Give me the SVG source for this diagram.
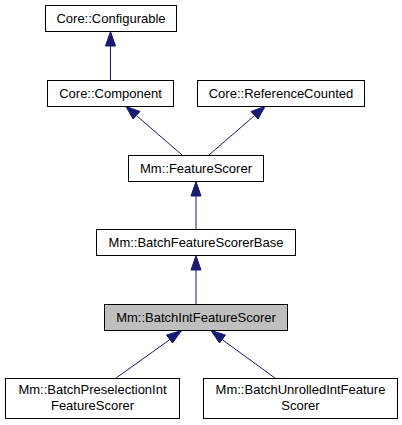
<svg xmlns="http://www.w3.org/2000/svg" width="402" height="425" viewBox="0 0 402 425">
<style>
.n rect{fill:#fff;stroke:#000;stroke-width:1}
.n text{font-family:"Liberation Sans",Arial,sans-serif;font-size:13px;text-anchor:middle;fill:#000}
.e path{fill:none;stroke:#191970;stroke-width:1}
.e polygon{fill:#191970;stroke:#191970;stroke-width:1}
</style>
<rect width="402" height="425" fill="#fff"/>
<g class="e" id="edges">
<path d="M110.5,80 L110.5,46"/>
<polygon points="110.5,31.5 105.5,46 115.5,46"/>
<path d="M182,155 L137,116"/>
<polygon points="126,106.5 133,119 140,111.5"/>
<path d="M209,155 L254,116"/>
<polygon points="265,106.5 251,111.5 258,119"/>
<path d="M196,229 L196,196"/>
<polygon points="196,181.5 191,196 201,196"/>
<path d="M196,304 L196,270"/>
<polygon points="196,255.5 191,270 201,270"/>
<path d="M116,378 L170,339.5"/>
<polygon points="181.5,330.5 166.5,335 172.5,343"/>
<path d="M275,378 L222,339.5"/>
<polygon points="211,330.5 219.5,343 225.5,335"/>
</g>
<g class="n" id="configurable"><rect x="45.5" y="5.5" width="131" height="26"/><text x="111" y="23">Core::Configurable</text></g>
<g class="n" id="component"><rect x="47.5" y="80.5" width="126" height="26"/><text x="110.5" y="98">Core::Component</text></g>
<g class="n" id="referencecounted"><rect x="197.5" y="80.5" width="167" height="26"/><text x="281" y="98">Core::ReferenceCounted</text></g>
<g class="n" id="featurescorer"><rect x="128.5" y="155.5" width="135" height="26"/><text x="196" y="173">Mm::FeatureScorer</text></g>
<g class="n" id="batchfeaturescorerbase"><rect x="96.5" y="229.5" width="199" height="26"/><text x="196" y="247">Mm::BatchFeatureScorerBase</text></g>
<g class="n" id="batchintfeaturescorer"><rect x="104.5" y="304.5" width="183" height="26" style="fill:#bfbfbf"/><text x="196" y="322">Mm::BatchIntFeatureScorer</text></g>
<g class="n" id="batchpreselection"><rect x="5.5" y="378.5" width="174" height="40"/><text x="92.5" y="394">Mm::BatchPreselectionInt</text><text x="92.5" y="410">FeatureScorer</text></g>
<g class="n" id="batchunrolled"><rect x="203.5" y="378.5" width="194" height="40"/><text x="300.5" y="394">Mm::BatchUnrolledIntFeature</text><text x="300.5" y="410">Scorer</text></g>
</svg>
